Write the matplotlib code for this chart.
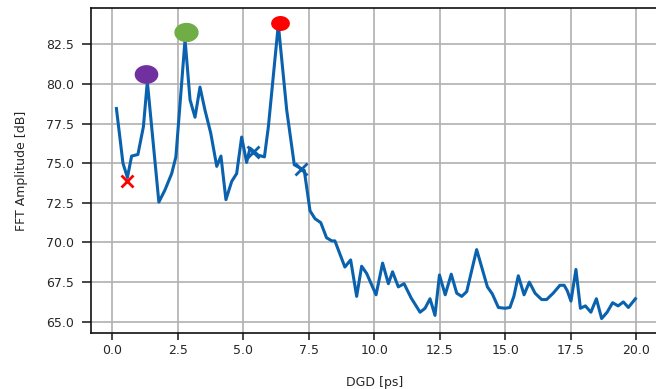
import numpy as np
import matplotlib
matplotlib.use('Agg')
import matplotlib.pyplot as plt

# traced curve vertices (DGD in ps, FFT amplitude in dB)
dgd = [0.15, 0.40, 0.57, 0.73, 0.97, 1.18, 1.33, 1.77, 2.00, 2.26, 2.42, 2.77,
       2.96, 3.15, 3.34, 3.53, 3.75, 3.98, 4.14, 4.33, 4.55, 4.74, 4.93, 5.12,
       5.25, 5.57, 5.80, 5.95, 6.33, 6.65, 6.94, 7.32, 7.54, 7.73, 7.95, 8.17,
       8.37, 8.49, 8.87, 9.09, 9.32, 9.51, 9.70, 10.06, 10.31, 10.53, 10.69,
       10.91, 11.13, 11.40, 11.74, 11.93, 12.12, 12.31, 12.48, 12.70, 12.93,
       13.14, 13.33, 13.52, 13.90, 14.31, 14.50, 14.73, 14.98, 15.17, 15.32,
       15.49, 15.71, 15.91, 16.13, 16.38, 16.57, 16.82, 17.08, 17.24, 17.36,
       17.50, 17.69, 17.86, 18.05, 18.26, 18.47, 18.67, 18.88, 19.09, 19.30,
       19.50, 19.69, 19.96]
amp = [78.45, 75.0, 74.1, 75.45, 75.55, 77.3, 80.15, 72.55, 73.3, 74.35, 75.4, 82.8,
       79.0, 77.9, 79.8, 78.35, 76.9, 74.8, 75.45, 72.7, 73.85, 74.35, 76.65, 75.05,
       75.95, 75.5, 75.4, 77.3, 83.75, 78.35, 74.9, 74.55, 72.0, 71.5, 71.25, 70.3,
       70.1, 70.1, 68.45, 68.9, 66.6, 68.5, 68.05, 66.7, 68.7, 67.4, 68.15,
       67.2, 67.4, 66.5, 65.6, 65.85, 66.45, 65.4, 67.95, 66.7, 68.0,
       66.8, 66.6, 66.9, 69.55, 67.2, 66.75, 65.9, 65.85, 65.9, 66.6,
       67.9, 66.7, 67.5, 66.8, 66.4, 66.4, 66.8, 67.3, 67.3, 66.95,
       66.3, 68.3, 65.85, 66.0, 65.6, 66.45, 65.2, 65.6, 66.2, 66.0,
       66.25, 65.9, 66.45]

# highlighted points
peak_x = [1.28, 2.80, 6.38]
peak_y = [80.6, 83.25, 83.85]
peak_colors = ['#7030a0', '#70ad47', '#ff0000']
peak_sizes = [16, 16.5, 12.5]

red_x = [0.55]
red_y = [73.85]
blue_x = [5.37, 7.18]
blue_y = [75.72, 74.62]

xticks = [0.0, 2.5, 5.0, 7.5, 10.0, 12.5, 15.0, 17.5, 20.0]
yticks = [65.0, 67.5, 70.0, 72.5, 75.0, 77.5, 80.0, 82.5]

line_color = '#0a62ae'
text_color = '#262626'

plt.rcParams['font.family'] = 'DejaVu Sans'
plt.rcParams['font.size'] = 9

fig = plt.figure(figsize=(6.56, 3.89), dpi=100)
ax = fig.add_axes([91/656, 1 - 333/389, 568/656, 325/389])

ax.grid(True, color='#b0b0b0', linewidth=1.2)
ax.set_axisbelow(True)

ax.plot(dgd, amp, color=line_color, linewidth=2.2, zorder=3)

# slightly wide ellipse marker
t = np.linspace(0, 2 * np.pi, 60)
ellipse = np.column_stack([np.cos(t), 0.78 * np.sin(t)])
for x, y, c, s in zip(peak_x, peak_y, peak_colors, peak_sizes):
    ax.plot([x], [y], linestyle='none', marker=ellipse, markersize=s,
            markerfacecolor=c, markeredgecolor=c, zorder=4)

ax.plot(red_x, red_y, linestyle='none', marker='x', markersize=9,
        markeredgewidth=2, color='#ff0000', zorder=4)
ax.plot(blue_x, blue_y, linestyle='none', marker='x', markersize=9,
        markeredgewidth=2, color=line_color, zorder=4)

ax.set_xlim(-0.82, 20.86)
ax.set_ylim(64.29, 84.79)
ax.set_xticks(xticks)
ax.set_yticks(yticks)
ax.set_xticklabels([f'{v:.1f}' for v in xticks])
ax.set_yticklabels([f'{v:.1f}' for v in yticks])
ax.tick_params(axis='both', colors=text_color, labelcolor=text_color,
               width=1.2)
ax.tick_params(axis='x', length=5, pad=3)
ax.tick_params(axis='y', length=6.5, pad=5.5)

for side in ['left', 'bottom', 'top', 'right']:
    ax.spines[side].set_linewidth(1.2)
    ax.spines[side].set_color('#111111')

ax.set_xlabel('DGD [ps]', color=text_color, labelpad=13.5)
ax.set_ylabel('FFT Amplitude [dB]', color=text_color, labelpad=13)

fig.savefig('out.png', dpi=100)
